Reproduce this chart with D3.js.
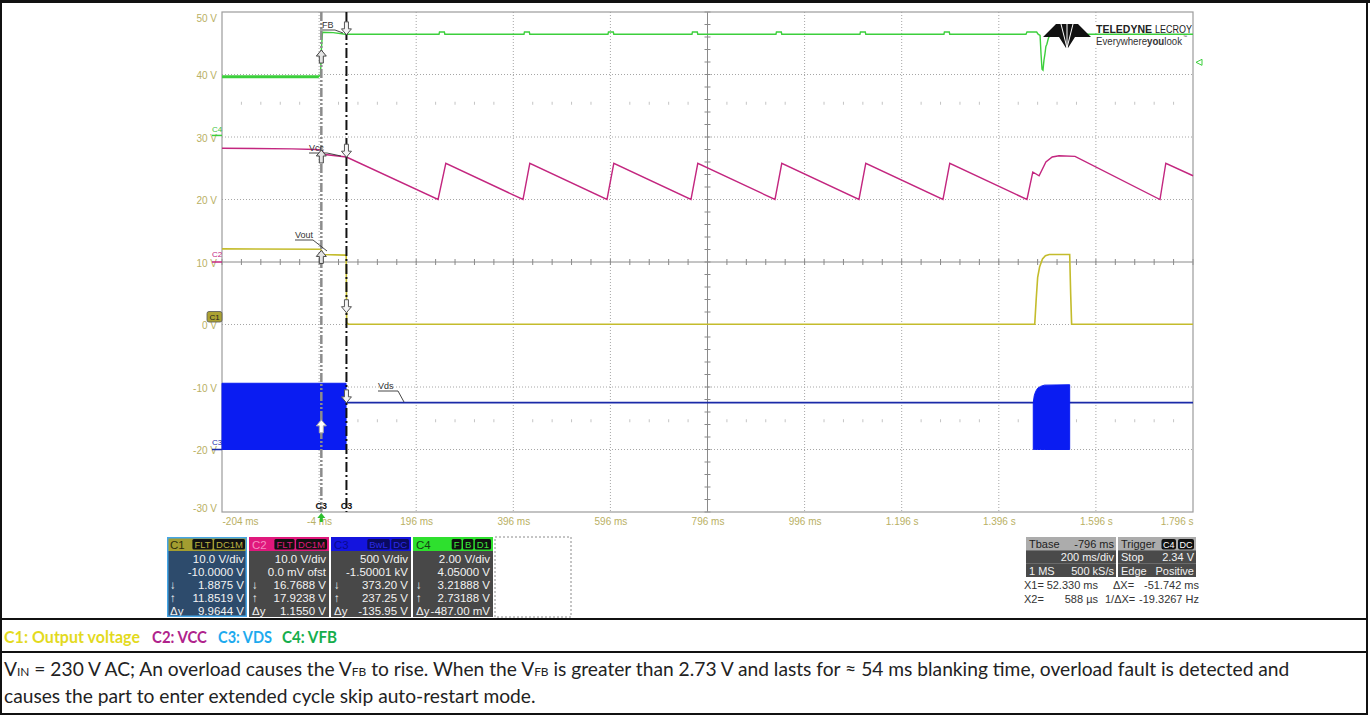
<!DOCTYPE html>
<html><head><meta charset="utf-8">
<script src="https://cdn.jsdelivr.net/npm/d3@7"></script>
<style>body{margin:0;background:#fff;} svg{display:block}</style>
</head><body><svg id="c" width="1370" height="715"></svg>
<script>
// ---------------- DATA ----------------
const xTicks = [-204,-4,196,396,596,796,996,1196,1396,1596,1796];
const xTickLabels = ["-204 ms","-4 ms","196 ms","396 ms","596 ms","796 ms","996 ms","1.196 s","1.396 s","1.596 s","1.796 s"];
const yTicks = [50,40,30,20,10,0,-10,-20,-30];

// channel settings (V/div, offset)
const chNames = ["C1","C2","C3","C4"];
const chVdiv = [10,10,500,2];
const chOffset = [-10,0,-1500.01,4.05];

// C1 Output voltage [ms, V]
const vout = [[-204,12.1],[-2,12.05],[1,11.85],[4,11.2],[50,11.1],[51.8,11.0],[52.8,0.3],[56,0.05],[1470,0.05],[1473,4],[1476,7.5],[1480,9.2],[1486,10.5],[1492,11.0],[1500,11.2],[1542,11.2],[1544,5],[1546,0.05],[1796,0.05]];
// C2 VCC [ms, V]
const vcc = [[-204,18.2],[-60,18.1],[-10,18.0],[0.6,17.9],[8,17.2],[52.33,16.8],[241,10.0],[257,15.8],[416,10.0],[430,15.8],[589,10.0],[603,15.8],[762,10.0],[776,15.8],[935,10.0],[949,15.8],[1108,10.0],[1122,15.8],[1281,10.0],[1295,15.8],[1454,10.0],[1466,14.4],[1479,13.8],[1493,16.0],[1506,16.8],[1520,17.0],[1553,16.9],[1728,10.0],[1740,15.8],[1796,13.8]];
// C3 VDS: idle level and switching envelopes [ms, top V, bottom V]
const vdsLine = [[52,375],[1796,375]];
const vdsBand1 = [[-204,530,0],[51.5,530,0]];
const vdsBand2 = [[1467,375,0],[1469,430,0],[1472,465,0],[1476,490,0],[1482,505,0],[1490,515,0],[1542,518,0]];
// C4 VFB [ms, V]
const vfb = [[-204,1.88],[-5,1.88],[-1,1.95],[0.588,2.73],[3,3.30],[25,3.29],[50,3.24],
 [243,3.24],[244,3.31],[254,3.31],[255,3.24],
 [418,3.24],[419,3.31],[429,3.31],[430,3.24],
 [591,3.24],[592,3.31],[602,3.31],[603,3.24],
 [764,3.24],[765,3.31],[775,3.31],[776,3.24],
 [937,3.24],[938,3.31],[948,3.31],[949,3.24],
 [1110,3.24],[1111,3.31],[1121,3.31],[1122,3.24],
 [1283,3.24],[1284,3.31],[1294,3.31],[1295,3.24],
 [1452,3.24],[1454,3.31],[1474,3.31],[1477,3.24],[1481,3.2],[1483,2.6],[1485,2.12],[1487,2.09],[1489,2.4],[1491,2.6],[1493,2.85],[1495,2.92],[1498,3.1],[1502,3.24],[1796,3.24]];

// cursors
const cursorX2 = 0.588, cursorX1 = 52.33;
const cursorX2Values = [11.8519,17.9238,237.25,2.73188]; // "↑" row
const cursorX1Values = [1.8875,16.7688,373.20,3.21888];   // "↓" row
const traceLabels = ["Vout","Vcc","Vds","FB"];
const triggerLevel = 2.34;

// channel boxes
const chBadges = [["FLT","DC1M"],["FLT","DC1M"],["BwL","DC"],["F","B","D1"]];
const chRows = [
 ["10.0 V/div","-10.0000 V","1.8875 V","11.8519 V","9.9644 V"],
 ["10.0 V/div","0.0 mV ofst","16.7688 V","17.9238 V","1.1550 V"],
 ["500 V/div","-1.50001 kV","373.20 V","237.25 V","-135.95 V"],
 ["2.00 V/div","4.05000 V","3.21888 V","2.73188 V","-487.00 mV"]];
const rowSymbols = ["","","↓","↑","Δy"];
const tbaseRows = [["Tbase","-796 ms"],["","200 ms/div"],["1 MS","500 kS/s"]];
const trigRows = [["Trigger",""],["Stop","2.34 V"],["Edge","Positive"]];
const trigBadges = ["C4","DC"];
const cursorReadouts = [["X1=","52.330 ms","ΔX=","-51.742 ms"],["X2=","588 µs","1/ΔX=","-19.3267 Hz"]];

const legendItems = ["C1: Output voltage","C2: VCC","C3: VDS","C4: VFB"];
const captionLine1 = [["V",0],["IN",1],[" = 230 V AC; An overload causes the V",0],["FB",1],[" to rise. When the V",0],["FB",1],[" is greater than 2.73 V and lasts for ≈ 54 ms blanking time, overload fault is detected and",0]];
const captionLine2 = "causes the part to enter extended cycle skip auto-restart mode.";

// ---------------- DRAW ----------------
const svg = d3.select("#c");
svg.append("rect").attr("width",1370).attr("height",715).attr("fill","#fff");

const L=222,R=1193,T=12,B=512;
const x = d3.scaleLinear().domain([-204,1796]).range([L,R]);
const yDiv = d3.scaleLinear().domain([-4,4]).range([B,T]);
const yLab = d3.scaleLinear().domain([-30,50]).range([B,T]);
const yC = (i,v)=> yDiv((v+chOffset[i])/chVdiv[i]);

const mono = "Liberation Sans, Arial, sans-serif";
const labCol = "#b9b064";

const grid = svg.append("g");
const cx = x(796), cy = yLab(10);
xTicks.slice(1,-1).filter(t=>t!==796).forEach(t=>{
  grid.append("line").attr("x1",x(t)).attr("x2",x(t)).attr("y1",T).attr("y2",B)
   .attr("stroke","#a6a6a6").attr("stroke-dasharray","1,2");
});
yTicks.slice(1,-1).filter(v=>v!==10).forEach(v=>{
  grid.append("line").attr("x1",L).attr("x2",R).attr("y1",yLab(v)).attr("y2",yLab(v))
   .attr("stroke","#a6a6a6").attr("stroke-dasharray","1,2");
});
grid.append("line").attr("x1",L).attr("x2",R).attr("y1",cy).attr("y2",cy).attr("stroke","#8a8a8a");
grid.append("line").attr("x1",cx).attr("x2",cx).attr("y1",T).attr("y2",B).attr("stroke","#8a8a8a");
const minorX = d3.range(-204,1797,40);
minorX.forEach(t=>{
  grid.append("line").attr("x1",x(t)).attr("x2",x(t)).attr("y1",cy-3).attr("y2",cy+3).attr("stroke","#8a8a8a");
  if (!xTicks.includes(t)) {
    [2.54,-2.54].forEach(d=>{
      grid.append("line").attr("x1",x(t)).attr("x2",x(t)).attr("y1",yDiv(d)-1.5).attr("y2",yDiv(d)+1.5).attr("stroke","#c4c4c4");
    });
  }
});
d3.range(-4,4.01,0.2).forEach(d=>{
  grid.append("line").attr("x1",cx-3).attr("x2",cx+3).attr("y1",yDiv(d)).attr("y2",yDiv(d)).attr("stroke","#8a8a8a");
});
grid.append("rect").attr("x",L).attr("y",T).attr("width",R-L).attr("height",B-T)
  .attr("fill","none").attr("stroke","#9c9c9c").attr("stroke-width",1.2);

// axes labels
const ax = svg.append("g").attr("transform",`translate(0,${B})`)
  .call(d3.axisBottom(x).tickValues(xTicks).tickFormat((d,i)=>xTickLabels[i]).tickSize(0).tickPadding(6));
ax.select(".domain").remove();
ax.selectAll("text").attr("fill",labCol).attr("font-family",mono).attr("font-size",10)
  .attr("text-anchor",(d,i)=> i===0?"start":(i===xTicks.length-1?"end":"middle"));
const ay = svg.append("g").attr("transform",`translate(${L},0)`)
  .call(d3.axisLeft(yLab).tickValues(yTicks).tickFormat(d=>d+" V").tickSize(0).tickPadding(5));
ay.select(".domain").remove();
ay.selectAll("text").attr("fill",labCol).attr("font-family",mono).attr("font-size",10)
  .attr("y",d=> d===50?6:(d===-30?-4:1));

// traces
const traceCols = ["#c4bc2c","#c3267f","#1a2aa8","#3ccf3c"];
const bandCol = "#0a1cf2";
const line = i => d3.line().x(d=>x(d[0])).y(d=>yC(i,d[1]));
const area = d3.area().x(d=>x(d[0])).y0(d=>yC(2,d[2])).y1(d=>yC(2,d[1]));
svg.append("path").datum(vdsLine).attr("d",line(2)).attr("fill","none").attr("stroke",traceCols[2]).attr("stroke-width",1.6);
[vdsBand1,vdsBand2].forEach(b=>{
  svg.append("path").datum(b).attr("d",area).attr("fill",bandCol).attr("stroke",bandCol).attr("stroke-width",1);
});
svg.append("path").datum(vout).attr("d",line(0)).attr("fill","none").attr("stroke",traceCols[0]).attr("stroke-width",1.6);
svg.append("path").datum(vcc).attr("d",line(1)).attr("fill","none").attr("stroke",traceCols[1]).attr("stroke-width",1.4);
svg.append("path").datum(vfb).attr("d",line(3)).attr("fill","none").attr("stroke",traceCols[3]).attr("stroke-width",1.4);
svg.append("path").datum(vfb.filter(d=>d[0]<-4)).attr("d",line(3)).attr("fill","none").attr("stroke","#3ccf3c").attr("stroke-width",3);

// logo (drawn over the trace)
const logo = svg.append("g");
logo.append("rect").attr("x",1094).attr("y",23).attr("width",96).attr("height",10).attr("fill","#fff");
logo.append("rect").attr("x",1094).attr("y",36).attr("width",96).attr("height",11).attr("fill","#fff");
logo.append("path").attr("d","M1043,37 L1056,24 L1078,24 L1091,37 L1075,37 L1068,48 L1066,48 L1059,37 Z").attr("fill","#111");
[[1061,24],[1067,24],[1073,24]].forEach(p=>{
  logo.append("line").attr("x1",1067).attr("y1",48).attr("x2",p[0]).attr("y2",p[1]).attr("stroke","#fff").attr("stroke-width",1);
});
const logoFont = "Liberation Sans Narrow, Liberation Sans, Arial";
logo.append("text").attr("x",1096).attr("y",32.5).attr("font-family",logoFont).attr("font-size",11.5).attr("font-weight","bold").attr("fill","#222")
  .attr("textLength",56).attr("lengthAdjust","spacingAndGlyphs").text("TELEDYNE");
logo.append("text").attr("x",1155).attr("y",32.5).attr("font-family",logoFont).attr("font-size",11.5).attr("fill","#222")
  .attr("textLength",37).attr("lengthAdjust","spacingAndGlyphs").text("LECROY");
const lt2 = logo.append("text").attr("x",1096).attr("y",44.5).attr("font-family","Liberation Sans, Arial").attr("font-size",10).attr("fill","#333")
  .attr("textLength",86).attr("lengthAdjust","spacingAndGlyphs");
lt2.append("tspan").text("Everywhere");
lt2.append("tspan").attr("font-weight","bold").text("you");
lt2.append("tspan").text("look");
logo.append("text").attr("x",1183).attr("y",38).attr("font-size",4).attr("fill","#333").attr("font-family",mono).text("™");

// channel markers at left
const gm = svg.append("g").attr("font-family",mono).attr("font-size",8);
gm.append("line").attr("x1",212).attr("x2",L).attr("y1",yC(3,0)).attr("y2",yC(3,0)).attr("stroke",traceCols[3]).attr("stroke-width",1.5);
gm.append("text").attr("x",212).attr("y",yC(3,0)-3).attr("fill","#3cbf3c").text("C4");
gm.append("line").attr("x1",212).attr("x2",L).attr("y1",yC(1,0)).attr("y2",yC(1,0)).attr("stroke",traceCols[1]).attr("stroke-width",1.5);
gm.append("text").attr("x",212).attr("y",yC(1,0)-5).attr("fill",traceCols[1]).text("C2");
gm.append("rect").attr("x",207).attr("y",yC(0,0)-13).attr("width",15).attr("height",10.5).attr("rx",2).attr("fill","#aca232").attr("stroke","#555").attr("stroke-width",0.8);
gm.append("text").attr("x",214.5).attr("y",yC(0,0)-5).attr("text-anchor","middle").attr("fill","#222").text("C1");
gm.append("line").attr("x1",212).attr("x2",L).attr("y1",yC(2,0)).attr("y2",yC(2,0)).attr("stroke",traceCols[2]).attr("stroke-width",1.5);
gm.append("text").attr("x",212).attr("y",yC(2,0)-5).attr("fill",traceCols[2]).text("C3");

// cursors
svg.append("line").attr("x1",x(cursorX2)).attr("x2",x(cursorX2)).attr("y1",T).attr("y2",B)
  .attr("stroke","#8c8c8c").attr("stroke-width",2.5).attr("stroke-dasharray","9,2,2,2,2,2");
svg.append("line").attr("x1",x(cursorX1)).attr("x2",x(cursorX1)).attr("y1",T).attr("y2",B)
  .attr("stroke","#111").attr("stroke-width",2).attr("stroke-dasharray","10,3,2,3");
svg.append("text").attr("x",x(cursorX2)).attr("y",509).attr("text-anchor","middle").attr("font-family",mono).attr("font-size",9).attr("font-weight","bold").attr("fill","#111").text("C3");
svg.append("text").attr("x",x(cursorX1)).attr("y",509).attr("text-anchor","middle").attr("font-family",mono).attr("font-size",9).attr("font-weight","bold").attr("fill","#111").text("C3");
svg.append("path").attr("d",`M${x(cursorX2)},513 l4,5 l-2.5,0 l0,4 l-3,0 l0,-4 l-2.5,0 Z`).attr("fill","#2fbf2f");
svg.append("path").attr("d",`M${R+3},${yC(3,triggerLevel)} l6,-3 l0,6 Z`).attr("fill","none").attr("stroke","#3ccf3c").attr("stroke-width",1);

// trace labels with leader lines (order: Vout, Vcc, Vds, FB)
const lblLayout = [
  {tx:295, ty:238, path:"M295,240 L313,240 L327,251"},
  {tx:309, ty:151, path:"M309,153 L327,153 L341,156"},
  {tx:378, ty:389, path:"M378,391 L398,391 L404,402"},
  {tx:322, ty:28,  path:"M320,30 L335,30 L343,33"}
];
lblLayout.forEach((l,i)=>{
  svg.append("path").attr("d",l.path).attr("fill","none").attr("stroke","#333").attr("stroke-width",0.9);
  svg.append("text").attr("x",l.tx).attr("y",l.ty).attr("font-family",mono).attr("font-size",9).attr("fill","#333").text(traceLabels[i]);
});

// cursor arrows
const upA = "M0,0 L5,6 L2,6 L2,13 L-2,13 L-2,6 L-5,6 Z";
const dnA = "M0,0 L5,-6 L2,-6 L2,-13 L-2,-13 L-2,-6 L-5,-6 Z";
[0,1,2,3].forEach(i=>{
  const isV = i===2;
  svg.append("path").attr("d",upA).attr("transform",`translate(${x(cursorX2)},${yC(i,cursorX2Values[i])})`)
    .attr("fill", isV?"#fff":"#e4e4e4").attr("stroke",isV?"#aaa":"#444").attr("stroke-width",1);
  svg.append("path").attr("d",dnA).attr("transform",`translate(${x(cursorX1)},${yC(i,cursorX1Values[i])})`)
    .attr("fill","#f4f4f4").attr("stroke","#555").attr("stroke-width",1);
});

// ---------- channel boxes ----------
const hdrCol = ["#a39d30","#e0187c","#1414de","#2ee02e"];
const hdrTxt = ["#2e2e0a","#f58cc0","#0a0a90","#124012"];
const badgeTxt = ["#bdb340","#e0187c","#2a2ae8","#3ce83c"];
const badgeBg = ["#111","#111","#0a0a60","#111"];
const bodyCol = ["#2d4b6c","#484848","#484848","#484848"];
const bx0 = 167, bw = 80, bgap = 2, by0 = 537, bh = 80;
const pan = svg.append("g").attr("font-family",mono);
chNames.forEach((n,i)=>{
  const bx = bx0 + i*(bw+bgap);
  pan.append("rect").attr("x",bx).attr("y",by0).attr("width",bw).attr("height",bh).attr("fill",bodyCol[i]);
  pan.append("rect").attr("x",bx).attr("y",by0).attr("width",bw).attr("height",14).attr("fill",hdrCol[i]);
  pan.append("text").attr("x",bx+3).attr("y",by0+11.5).attr("font-size",11.5).attr("fill",hdrTxt[i]).text(n);
  let cur = bx+bw-2;
  chBadges[i].slice().reverse().forEach(bt=>{
    const t = pan.append("text").attr("font-size",9.5).attr("fill",badgeTxt[i]).text(bt);
    const w = t.node().getComputedTextLength()+4;
    pan.insert("rect","text:last-child").attr("x",cur-w).attr("y",by0+2).attr("width",w).attr("height",10.5).attr("rx",1.5).attr("fill",badgeBg[i]);
    t.raise().attr("x",cur-w+2).attr("y",by0+10.5);
    cur -= w+1.5;
  });
  chRows[i].forEach((r,j)=>{
    const yy = by0 + 26 + j*13;
    pan.append("text").attr("x",bx+bw-3).attr("y",yy).attr("text-anchor","end").attr("font-size",11.5).attr("fill","#f2f2f2").text(r);
    if (rowSymbols[j]) pan.append("text").attr("x",bx+3).attr("y",yy).attr("font-size",11.5).attr("fill","#f2f2f2").text(rowSymbols[j]);
  });
  if (i===0) pan.append("rect").attr("x",bx+0.75).attr("y",by0+0.75).attr("width",bw-1.5).attr("height",bh-1.5).attr("fill","none").attr("stroke","#46a6e6").attr("stroke-width",1.5);
});
pan.append("rect").attr("x",bx0+4*(bw+bgap)).attr("y",by0).attr("width",76).attr("height",bh)
  .attr("fill","none").attr("stroke","#8a8a8a").attr("stroke-dasharray","2,2");

// timebase / trigger
const tb = svg.append("g").attr("font-family",mono).attr("font-size",11);
function infoBox(x0,w,rows,badges){
  rows.forEach((r,j)=>{
    const y0 = 537 + j*13.3;
    tb.append("rect").attr("x",x0).attr("y",y0).attr("width",w).attr("height",13.4).attr("fill", j===0?"#acacac":"#4a4a4a");
    const col = j===0?"#1e1e1e":"#f2f2f2";
    tb.append("text").attr("x",x0+3).attr("y",y0+11).attr("fill",col).text(r[0]);
    tb.append("text").attr("x",x0+w-2).attr("y",y0+11).attr("text-anchor","end").attr("fill",col).text(r[1]);
  });
  if (badges){
    let cur = x0+w-2;
    badges.slice().reverse().forEach(bt=>{
      const t = tb.append("text").attr("font-size",9).attr("fill","#fff").text(bt);
      const bw2 = t.node().getComputedTextLength()+3;
      tb.insert("rect","text:last-child").attr("x",cur-bw2).attr("y",539).attr("width",bw2).attr("height",10.5).attr("rx",2).attr("fill","#111");
      t.raise().attr("x",cur-bw2+1.5).attr("y",547.5);
      cur -= bw2+2;
    });
  }
}
infoBox(1026,90,tbaseRows,null);
infoBox(1118,78,trigRows,trigBadges);
cursorReadouts.forEach((r,j)=>{
  const yy = 589 + j*14;
  tb.append("text").attr("x",1024).attr("y",yy).attr("fill","#333").text(r[0]);
  tb.append("text").attr("x",1098).attr("y",yy).attr("text-anchor","end").attr("fill","#333").text(r[1]);
  tb.append("text").attr("x",j===0?1113:1105).attr("y",yy).attr("fill","#333").text(r[2]);
  tb.append("text").attr("x",1199).attr("y",yy).attr("text-anchor","end").attr("fill","#333").text(r[3]);
});

// ---------- frame ----------
const fr = svg.append("g").attr("stroke","#111");
fr.append("line").attr("x1",0).attr("x2",1370).attr("y1",1.5).attr("y2",1.5).attr("stroke-width",3);
fr.append("line").attr("x1",1).attr("x2",1).attr("y1",0).attr("y2",715).attr("stroke-width",2);
fr.append("line").attr("x1",1367).attr("x2",1367).attr("y1",0).attr("y2",715).attr("stroke-width",2);
fr.append("line").attr("x1",0).attr("x2",1368).attr("y1",714).attr("y2",714).attr("stroke-width",2);
fr.append("line").attr("x1",0).attr("x2",1368).attr("y1",619).attr("y2",619).attr("stroke-width",2);
fr.append("line").attr("x1",0).attr("x2",1368).attr("y1",652).attr("y2",652).attr("stroke-width",2);

// ---------- legend row ----------
const capFont = "Lato, 'Open Sans', 'Noto Sans', sans-serif";
const legCols = ["#e3da1e","#b0238c","#1eaaee","#16ae4c"];
const legX = [4,152,218,282];
const legW = [136,55,54,55];
legendItems.forEach((t,i)=>{
  svg.append("text").attr("x",legX[i]).attr("y",643).attr("font-family",capFont).attr("font-weight","bold")
    .attr("font-size",17.5).attr("fill",legCols[i]).attr("textLength",legW[i]).attr("lengthAdjust","spacingAndGlyphs").text(t);
});

// ---------- caption ----------
const c1 = svg.append("text").attr("x",4).attr("y",676).attr("font-family",capFont).attr("font-size",16).attr("fill","#222");
captionLine1.forEach(s=>{
  const ts = c1.append("tspan").text(s[0]);
  if (s[1]) ts.attr("font-size","0.62em");
});
const capFs = 16*1286/c1.node().getComputedTextLength();
c1.attr("font-size",capFs);
svg.append("text").attr("x",4).attr("y",703).attr("font-family",capFont).attr("font-size",capFs).attr("fill","#222").text(captionLine2);
</script></body></html>
